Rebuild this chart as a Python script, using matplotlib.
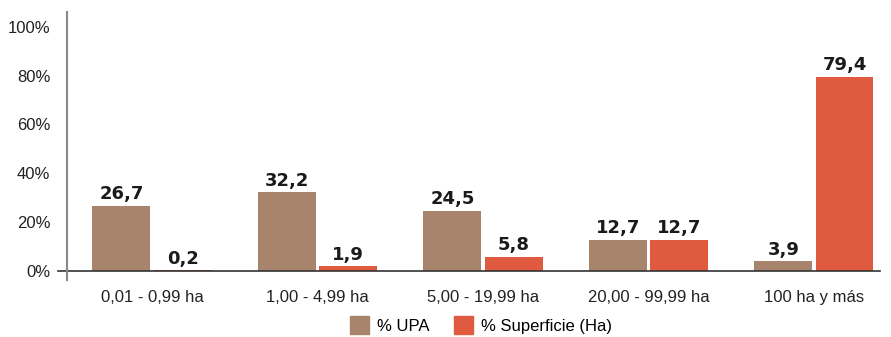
import matplotlib.pyplot as plt
from matplotlib.patches import Patch
import numpy as np

# Estratos de superficie y porcentajes
estratos = ["0,01 - 0,99 ha", "1,00 - 4,99 ha", "5,00 - 19,99 ha",
            "20,00 - 99,99 ha", "100 ha y más"]
pct_upa = [26.7, 32.2, 24.5, 12.7, 3.9]
pct_superficie = [0.2, 1.9, 5.8, 12.7, 79.4]
ticks_y = [0, 20, 40, 60, 80, 100]

color_upa = "#A8846C"
color_sup = "#E05A40"

plt.rcParams['font.family'] = ['Liberation Sans', 'DejaVu Sans']

fig = plt.figure(figsize=(8.91, 3.37), dpi=100)
ax = fig.add_axes([0.0752, 0.1691, 0.9125, 0.7953])

x = np.arange(len(estratos))
ancho = 0.35
desp = 0.185

b1 = ax.bar(x - desp, pct_upa, ancho, color=color_upa)
b2 = ax.bar(x + desp, pct_superficie, ancho, color=color_sup)

for barras in (b1, b2):
    etiquetas = [f"{v:.1f}".replace(".", ",") for v in barras.datavalues]
    ax.bar_label(barras, labels=etiquetas, padding=2, fontsize=13,
                 fontweight="bold", family="DejaVu Sans", color="#1a1a1a")

ax.set_xlim(-0.514, 4.40)
ax.set_ylim(-3.7, 106)

ax.set_yticks(ticks_y)
ax.set_yticklabels([f"{t}%" for t in ticks_y], fontsize=12, color="#222222")
ax.tick_params(axis="y", length=0, pad=12)
ax.set_xticks(x)
ax.set_xticklabels(estratos, fontsize=12, color="#222222")
ax.tick_params(axis="x", length=0, pad=7)

for lado in ("top", "right", "bottom"):
    ax.spines[lado].set_visible(False)
ax.spines["left"].set_color("#888888")
ax.spines["left"].set_linewidth(1.5)

# linea base del eje x, algo mas larga a la izquierda
ax.axhline(0, xmin=-0.011, xmax=1, color="#333333", linewidth=1.2, clip_on=False)

handles = [Patch(color=color_upa, label="% UPA"),
           Patch(color=color_sup, label="% Superficie (Ha)")]
fig.legend(handles=handles, loc="center", bbox_to_anchor=(0.54, 0.035),
           ncol=2, frameon=False, fontsize=12, handlelength=1.1,
           handleheight=1.3, handletextpad=0.5, columnspacing=1.5)

fig.savefig("out.png", dpi=100)
